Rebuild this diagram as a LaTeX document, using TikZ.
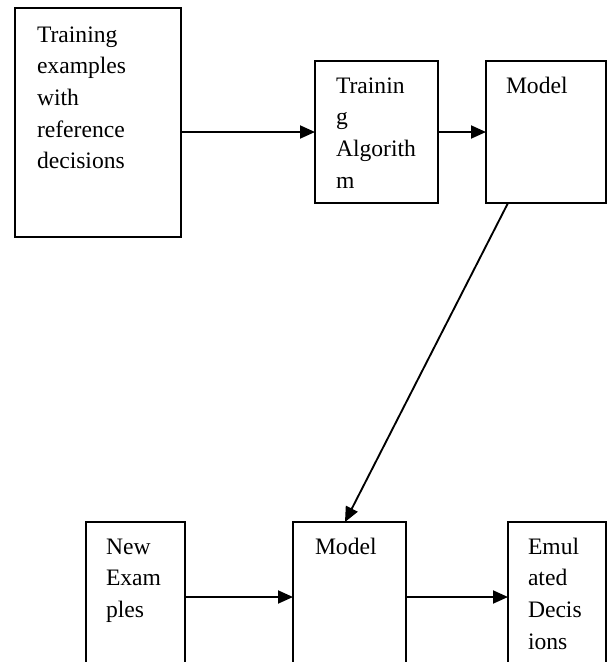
\documentclass[tikz,border=0pt]{standalone}
\usepackage{fontspec}
\setmainfont{Liberation Serif}
\usetikzlibrary{arrows.meta,calc}
\tikzset{
  box/.style={draw=black, line width=1.4pt, inner sep=0pt, outer sep=0pt, anchor=north west},
  lbl/.style={anchor=base west, inner sep=0pt, outer sep=0pt, font=\fontsize{17.7}{23.8}\selectfont},
  conn/.style={draw=black, line width=1.4pt, -{Triangle[length=11.25pt, width=9.75pt]}}
}
\newcommand{\lines}[1]{\parbox[t]{4cm}{\raggedright #1}}
\begin{document}
\begin{tikzpicture}[x=0.75pt, y=-0.75pt]
\useasboundingbox (0,0) rectangle (607,662);
\clip (0,0) rectangle (607,662);
\fill[white] (0,0) rectangle (607,662);
% top row
\node[box, minimum width=124.5pt, minimum height=171.75pt] (b1) at (15,8) {};
\node[box, minimum width=92.25pt, minimum height=106.5pt] (b2) at (315,61) {};
\node[box, minimum width=90pt, minimum height=106.5pt] (b3) at (486,61) {};
% bottom row
\node[box, minimum width=74.25pt, minimum height=150pt] (b4) at (86,522) {};
\node[box, minimum width=84.75pt, minimum height=150pt] (b5) at (293,522) {};
\node[box, minimum width=73.5pt, minimum height=150pt] (b6) at (508,522) {};
% texts
\node[lbl] (t1) at (37,42) {\lines{Training\\examples\\with\\reference\\decisions}};
\node[lbl] (t2) at (336,93) {\lines{Trainin\\g\\Algorith\\m}};
\node[lbl] (t3) at (506,93) {Model};
\node[lbl] (t4) at (106,554) {\lines{New\\Exam\\ples}};
\node[lbl] (t5) at (315,554) {Model};
\node[lbl] (t6) at (528,554) {\lines{Emul\\ated\\Decis\\ions}};
% connectors
\draw[conn] (b1.east |- b2.west) -- (b2.west);
\draw[conn] (b2.east) -- (b3.west);
\draw[conn] ($(b3.south west)+(22,0)$) -- ($(b5.north west)+(52,0)$);
\draw[conn] ($(b4.north east)+(0,75)$) -- ($(b5.north west)+(0,75)$);
\draw[conn] ($(b5.north east)+(0,75)$) -- ($(b6.north west)+(0,75)$);
\end{tikzpicture}
\end{document}
